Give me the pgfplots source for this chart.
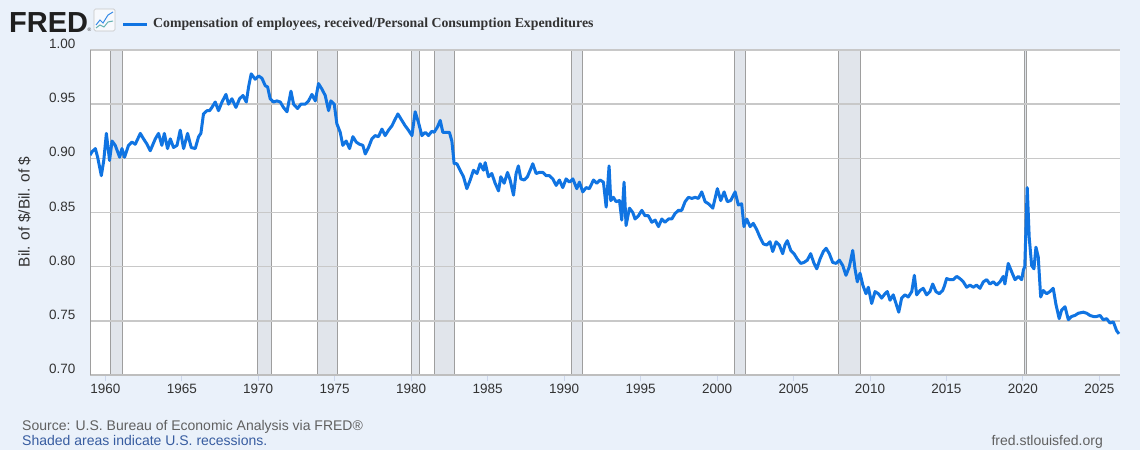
\documentclass[border=0pt]{standalone}
\usepackage{pgfplots}
\pgfplotsset{compat=1.18}
\usepackage{pgfplotstable}
\usepackage{fontspec}
\setmainfont{Liberation Sans}
\newfontfamily\titlefont{Liberation Serif}
\definecolor{fredbg}{RGB}{234,241,250}
\definecolor{fredblue}{RGB}{16,116,226}
\definecolor{gridgray}{RGB}{200,200,200}
\definecolor{recfill}{RGB}{225,229,235}
\definecolor{recedge}{RGB}{158,158,158}
\definecolor{textgray}{RGB}{51,51,51}
\definecolor{srcgray}{RGB}{96,96,96}
\definecolor{shadeblue}{RGB}{55,92,160}
\definecolor{tickcol}{RGB}{204,214,235}
\definecolor{axisgray}{RGB}{190,190,190}
\pagecolor{fredbg}

\pgfplotstableread{
x y
1959.00 0.903
1959.13 0.906
1959.35 0.909
1959.50 0.901
1959.74 0.884
1959.90 0.898
1960.07 0.923
1960.28 0.898
1960.44 0.916
1960.65 0.912
1960.94 0.901
1961.09 0.909
1961.26 0.901
1961.52 0.912
1961.74 0.915
1961.96 0.913
1962.29 0.923
1962.50 0.918
1962.73 0.913
1962.94 0.907
1963.27 0.918
1963.48 0.923
1963.70 0.912
1963.86 0.923
1964.07 0.909
1964.25 0.918
1964.46 0.910
1964.69 0.912
1964.90 0.926
1965.12 0.909
1965.38 0.923
1965.62 0.910
1965.88 0.909
1966.10 0.920
1966.25 0.923
1966.42 0.941
1966.65 0.944
1966.82 0.944
1966.97 0.947
1967.19 0.952
1967.40 0.944
1967.63 0.952
1967.89 0.959
1968.06 0.950
1968.28 0.955
1968.54 0.947
1968.78 0.955
1969.00 0.958
1969.22 0.952
1969.37 0.966
1969.54 0.978
1969.80 0.973
1970.02 0.976
1970.24 0.974
1970.46 0.967
1970.61 0.966
1970.78 0.955
1971.00 0.952
1971.22 0.953
1971.44 0.952
1971.65 0.947
1971.88 0.943
1972.14 0.962
1972.31 0.950
1972.57 0.946
1972.79 0.950
1973.07 0.950
1973.29 0.953
1973.51 0.959
1973.73 0.953
1973.94 0.969
1974.16 0.964
1974.38 0.958
1974.60 0.944
1974.75 0.953
1974.97 0.950
1975.14 0.932
1975.36 0.924
1975.53 0.912
1975.75 0.916
1975.97 0.909
1976.19 0.920
1976.41 0.915
1976.62 0.913
1976.84 0.912
1977.00 0.904
1977.21 0.910
1977.43 0.918
1977.65 0.921
1977.86 0.920
1978.09 0.927
1978.30 0.921
1978.52 0.926
1978.74 0.930
1978.95 0.936
1979.13 0.941
1979.39 0.935
1979.61 0.930
1979.82 0.926
1980.05 0.921
1980.26 0.943
1980.48 0.933
1980.70 0.921
1980.92 0.924
1981.13 0.921
1981.35 0.925
1981.50 0.924
1981.72 0.929
1981.90 0.935
1982.07 0.924
1982.29 0.924
1982.50 0.924
1982.66 0.916
1982.81 0.895
1982.99 0.895
1983.20 0.889
1983.42 0.883
1983.64 0.872
1983.86 0.880
1984.07 0.889
1984.30 0.886
1984.51 0.895
1984.73 0.889
1984.84 0.896
1985.05 0.883
1985.27 0.886
1985.49 0.877
1985.71 0.870
1985.86 0.883
1986.08 0.877
1986.30 0.887
1986.47 0.880
1986.69 0.866
1986.86 0.886
1987.01 0.893
1987.17 0.881
1987.39 0.880
1987.60 0.883
1987.78 0.889
1987.95 0.895
1988.17 0.886
1988.39 0.887
1988.61 0.887
1988.82 0.884
1989.04 0.884
1989.26 0.881
1989.48 0.875
1989.69 0.880
1989.91 0.873
1990.13 0.881
1990.35 0.878
1990.57 0.881
1990.83 0.872
1991.00 0.878
1991.22 0.869
1991.44 0.873
1991.65 0.872
1991.92 0.880
1992.14 0.877
1992.35 0.880
1992.57 0.878
1992.75 0.855
1992.94 0.893
1993.05 0.861
1993.22 0.864
1993.40 0.860
1993.62 0.861
1993.77 0.843
1993.92 0.878
1994.05 0.838
1994.27 0.854
1994.49 0.850
1994.64 0.844
1994.86 0.847
1995.08 0.852
1995.29 0.847
1995.51 0.847
1995.73 0.841
1995.95 0.843
1996.17 0.837
1996.39 0.844
1996.60 0.841
1996.82 0.844
1997.04 0.844
1997.25 0.849
1997.47 0.852
1997.69 0.852
1997.91 0.860
1998.13 0.864
1998.35 0.863
1998.56 0.864
1998.78 0.863
1999.00 0.869
1999.22 0.860
1999.44 0.858
1999.72 0.854
1999.87 0.863
2000.02 0.872
2000.24 0.861
2000.46 0.869
2000.67 0.860
2000.89 0.861
2001.18 0.869
2001.39 0.857
2001.61 0.858
2001.76 0.837
2001.94 0.844
2002.16 0.837
2002.37 0.840
2002.60 0.834
2002.81 0.827
2003.03 0.821
2003.25 0.820
2003.46 0.823
2003.64 0.814
2003.86 0.823
2004.07 0.820
2004.29 0.812
2004.44 0.820
2004.59 0.824
2004.82 0.815
2005.03 0.812
2005.25 0.807
2005.47 0.803
2005.69 0.804
2005.90 0.806
2006.12 0.812
2006.34 0.803
2006.52 0.798
2006.73 0.807
2006.95 0.814
2007.13 0.817
2007.34 0.812
2007.56 0.804
2007.78 0.803
2008.00 0.806
2008.22 0.801
2008.43 0.792
2008.65 0.800
2008.87 0.815
2009.02 0.798
2009.17 0.786
2009.35 0.794
2009.53 0.783
2009.74 0.775
2009.89 0.781
2010.11 0.766
2010.33 0.777
2010.55 0.775
2010.76 0.771
2010.98 0.775
2011.13 0.777
2011.31 0.769
2011.52 0.774
2011.70 0.766
2011.88 0.758
2012.07 0.771
2012.29 0.774
2012.50 0.772
2012.73 0.777
2012.90 0.792
2013.05 0.774
2013.27 0.778
2013.48 0.780
2013.70 0.774
2013.92 0.777
2014.10 0.784
2014.31 0.777
2014.53 0.775
2014.75 0.778
2014.86 0.782
2015.01 0.789
2015.23 0.788
2015.44 0.788
2015.67 0.791
2015.88 0.789
2016.10 0.786
2016.32 0.781
2016.54 0.783
2016.75 0.781
2016.97 0.783
2017.19 0.780
2017.41 0.786
2017.63 0.788
2017.84 0.784
2018.06 0.786
2018.28 0.783
2018.50 0.786
2018.71 0.791
2018.82 0.784
2019.04 0.803
2019.27 0.795
2019.48 0.788
2019.70 0.791
2019.92 0.788
2020.03 0.797
2020.12 0.800
2020.28 0.873
2020.41 0.827
2020.57 0.801
2020.72 0.798
2020.85 0.818
2021.00 0.809
2021.16 0.772
2021.33 0.778
2021.55 0.775
2021.76 0.777
2021.98 0.780
2022.16 0.765
2022.37 0.752
2022.53 0.760
2022.75 0.763
2022.97 0.751
2023.18 0.754
2023.40 0.755
2023.62 0.757
2023.95 0.758
2024.17 0.757
2024.38 0.755
2024.60 0.754
2024.82 0.754
2025.04 0.755
2025.25 0.751
2025.47 0.752
2025.69 0.748
2025.91 0.749
2026.12 0.741
2026.28 0.738
}\datatable

\begin{document}
\begin{tikzpicture}
\path (0pt,0pt) rectangle (1140pt,450pt);
% header
\node[anchor=base west, inner sep=0pt, font=\fontsize{29}{29}\selectfont\bfseries, text=black!88] at (9pt,417.5pt) {FRED};
\node[anchor=base west, inner sep=0pt, font=\fontsize{5}{5}\selectfont, text=black!80] at (87.5pt,418pt) {\textregistered};
\draw[rounded corners=1.5pt, draw=gray!45, fill=white!60!fredbg, line width=0.7pt] (94pt,419pt) rectangle (115pt,441pt);
\draw[fredblue!85, line width=1pt] (96pt,425pt) -- (100pt,430pt) -- (103pt,427pt) -- (108pt,435pt) -- (113pt,438pt);
\draw[teal!60, line width=1pt] (96pt,422pt) -- (100pt,425pt) -- (104pt,423pt) -- (108pt,428pt) -- (113pt,429pt);
\draw[fredblue, line width=2.6pt] (123pt,425.4pt) -- (147pt,425.4pt);
\node[anchor=west, inner sep=0pt, font=\titlefont\bfseries\fontsize{13.8}{15}\selectfont, text=textgray] at (153pt,425.6pt) {Compensation of employees, received/Personal Consumption Expenditures};
% y label
\node[rotate=90, inner sep=0pt, font=\fontsize{15.5}{17}\selectfont, text=textgray] at (24.5pt,238pt) {Bil. of \$/Bil. of \$};
% footer
\node[anchor=base west, inner sep=0pt, font=\fontsize{14}{16}\selectfont, text=srcgray] at (22pt,20pt) {Source: U.S. Bureau of Economic Analysis via FRED\textregistered};
\node[anchor=base west, inner sep=0pt, font=\fontsize{14}{16}\selectfont, text=shadeblue] at (22pt,5pt) {Shaded areas indicate U.S. recessions.};
\node[anchor=base east, inner sep=0pt, font=\fontsize{14}{16}\selectfont, text=srcgray] at (1103pt,5pt) {fred.stlouisfed.org};
\begin{axis}[
  at={(90pt,75pt)}, anchor=south west,
  scale only axis, width=1030pt, height=325pt,
  xmin=1959.0, xmax=2026.35, ymin=0.70, ymax=1.00,
  set layers,
  axis background/.style={fill=white},
  axis x line*=bottom, axis y line*=left,
  x axis line style={-, draw=axisgray, line width=1.2pt},
  y axis line style={-, draw=recedge, line width=1pt},
  xtick={1960,1965,1970,1975,1980,1985,1990,1995,2000,2005,2010,2015,2020,2025},
  ytick={0.70,0.75,0.80,0.85,0.90,0.95,1.00},
  tick align=outside,
  major tick length=6pt,
  xtick style={draw=tickcol, line width=1pt},
  ytick style={draw=none},
  ymajorgrids,
  major grid style={draw=gridgray, line width=1.4pt},
  /pgf/number format/assume math mode=true,
  ticklabel style={text=textgray, font=\fontsize{13.5}{16}\selectfont},
  xticklabel style={/pgf/number format/1000 sep={}},
  yticklabel style={/pgf/number format/.cd, fixed, fixed zerofill, precision=2, /tikz/.cd, xshift=-5pt, yshift=6pt},
  clip=true,
]
\addplot[on layer=axis background, fill=recfill, draw=recedge, line width=0.8pt] coordinates {(1960.33,0.7) (1960.33,1) (1961.13,1) (1961.13,0.7)};
\addplot[on layer=axis background, fill=recfill, draw=recedge, line width=0.8pt] coordinates {(1969.95,0.7) (1969.95,1) (1970.85,1) (1970.85,0.7)};
\addplot[on layer=axis background, fill=recfill, draw=recedge, line width=0.8pt] coordinates {(1973.88,0.7) (1973.88,1) (1975.18,1) (1975.18,0.7)};
\addplot[on layer=axis background, fill=recfill, draw=recedge, line width=0.8pt] coordinates {(1980.04,0.7) (1980.04,1) (1980.54,1) (1980.54,0.7)};
\addplot[on layer=axis background, fill=recfill, draw=recedge, line width=0.8pt] coordinates {(1981.52,0.7) (1981.52,1) (1982.83,1) (1982.83,0.7)};
\addplot[on layer=axis background, fill=recfill, draw=recedge, line width=0.8pt] coordinates {(1990.50,0.7) (1990.50,1) (1991.20,1) (1991.20,0.7)};
\addplot[on layer=axis background, fill=recfill, draw=recedge, line width=0.8pt] coordinates {(2001.13,0.7) (2001.13,1) (2001.85,1) (2001.85,0.7)};
\addplot[on layer=axis background, fill=recfill, draw=recedge, line width=0.8pt] coordinates {(2007.95,0.7) (2007.95,1) (2009.38,1) (2009.38,0.7)};
\addplot[on layer=axis background, fill=recfill, draw=recedge, line width=0.8pt] coordinates {(2020.08,0.7) (2020.08,1) (2020.21,1) (2020.21,0.7)};
\addplot[fredblue, line width=3pt, line join=round, mark=none] table[x=x, y=y] {\datatable};
\end{axis}
\end{tikzpicture}
\end{document}
